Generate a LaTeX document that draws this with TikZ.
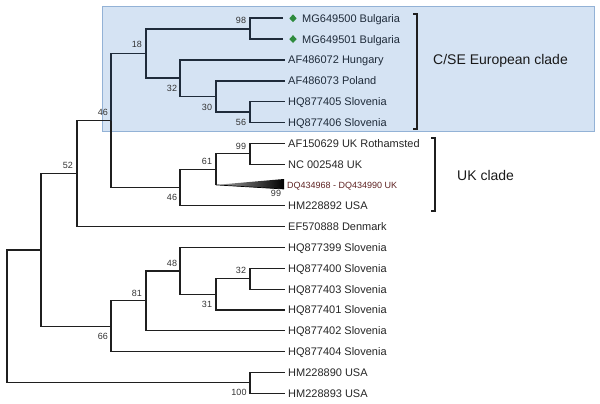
\documentclass[tikz,border=0pt]{standalone}
\usepackage{fontspec}
\setmainfont{Liberation Sans}
\usetikzlibrary{shapes.geometric}
\definecolor{boxfill}{HTML}{D5E3F3}
\definecolor{boxedge}{HTML}{93B2D6}
\definecolor{navy}{HTML}{1F2B3A}
\definecolor{dqred}{HTML}{5E2222}
\definecolor{dgreen}{HTML}{2E8B3E}
\begin{document}
\begin{tikzpicture}[x=1pt,y=-1pt,
  treeline/.style={line width=1.2pt, draw=black!88},
  cladeline/.style={line width=1.7pt, draw=navy},
  leaf/.style={anchor=base west, inner sep=0, font=\fontsize{11}{13}\selectfont, text=black!85},
  bs/.style={inner sep=0, font=\fontsize{9}{11}\selectfont, text=black!80},
  cladelabel/.style={anchor=west, inner sep=0, font=\fontsize{14}{16}\selectfont, text=black!90},
  bracketline/.style={line width=1.5pt, draw=black!88},
  gem/.style={diamond, fill=dgreen, inner sep=0, minimum width=7.5pt, minimum height=8pt}]
\useasboundingbox (0,0) rectangle (600,404);
% clade box
\path[fill=boxfill, draw=boxedge, line width=0.9pt] (102,6) rectangle (594,131);
% leaf tips
\coordinate (t0) at (283,18.3);
\coordinate (t1) at (283,39.1);
\coordinate (t2) at (285,60.0);
\coordinate (t3) at (285,80.8);
\coordinate (t4) at (285,101.6);
\coordinate (t5) at (285,122.5);
\coordinate (t6) at (285,143.3);
\coordinate (t7) at (285,164.1);
\coordinate (dq) at (216,184.9);
\coordinate (tri1) at (284,179);
\coordinate (tri2) at (284,189);
\coordinate (t9) at (285,205.8);
\coordinate (t10) at (285,226.6);
\coordinate (t11) at (285,247.4);
\coordinate (t12) at (285,268.3);
\coordinate (t13) at (285,289.1);
\coordinate (t14) at (285,309.9);
\coordinate (t15) at (285,330.8);
\coordinate (t16) at (285,351.6);
\coordinate (t17) at (285,372.4);
\coordinate (t18) at (285,393.2);
% internal nodes
\coordinate (n98) at (250,28.7);
\coordinate (n56) at (250,112);
\coordinate (n30) at (216,96.4);
\coordinate (n32) at (180,78.2);
\coordinate (n18) at (146,53.5);
\coordinate (n99a) at (250,153.7);
\coordinate (n61) at (216,169.3);
\coordinate (n46b) at (180,187.5);
\coordinate (n46a) at (111,120.5);
\coordinate (n52) at (77,173.5);
\coordinate (n32b) at (250,278.7);
\coordinate (n31) at (216,294.3);
\coordinate (n48) at (180,270.9);
\coordinate (n81) at (146,300.8);
\coordinate (n66) at (111,326.2);
\coordinate (nX) at (41,249.9);
\coordinate (n100) at (250,382.8);
\coordinate (root) at (7,316.4);
% C/SE clade branches
\draw[cladeline] (n46a) |- (n18);
\draw[cladeline] (n18) |- (n98);
\draw[cladeline] (n18) |- (n32);
\draw[cladeline] (n98) |- (t0);
\draw[cladeline] (n98) |- (t1);
\draw[cladeline] (n32) |- (t2);
\draw[cladeline] (n32) |- (n30);
\draw[cladeline] (n30) |- (t3);
\draw[cladeline] (n30) |- (n56);
\draw[cladeline] (n56) |- (t4);
\draw[cladeline] (n56) |- (t5);
% other branches
\draw[treeline] (n46a) |- (n46b);
\draw[treeline] (n46b) |- (n61);
\draw[treeline] (n46b) |- (t9);
\draw[treeline] (n61) |- (n99a);
\draw[treeline] (n61) -- (dq);
\draw[treeline] (n99a) |- (t6);
\draw[treeline] (n99a) |- (t7);
\draw[treeline] (n52) |- (n46a);
\draw[treeline] (n52) |- (t10);
\draw[treeline] (nX) |- (n52);
\draw[treeline] (nX) |- (n66);
\draw[treeline] (n66) |- (n81);
\draw[treeline] (n66) |- (t16);
\draw[treeline] (n81) |- (n48);
\draw[treeline] (n81) |- (t15);
\draw[treeline] (n48) |- (t11);
\draw[treeline] (n48) |- (n31);
\draw[treeline] (n31) |- (n32b);
\draw[treeline] (n31) |- (t14);
\draw[treeline] (n32b) |- (t12);
\draw[treeline] (n32b) |- (t13);
\draw[treeline] (root) |- (nX);
\draw[treeline] (root) |- (n100);
\draw[treeline] (n100) |- (t17);
\draw[treeline] (n100) |- (t18);
% collapsed triangle
\shade[left color=black!35, right color=black] (dq) -- (tri1) -- (tri2) -- cycle;
\draw[line width=0.7pt, black] (dq) -- (tri2);
% diamonds
\node[gem] (d0) at (293,18.3) {};
\node[gem] (d1) at (293,39.1) {};
% leaf labels
\node[leaf, text=navy] (l0) at (302,22.3) {MG649500 Bulgaria};
\node[leaf, text=navy] (l1) at (302,43.1) {MG649501 Bulgaria};
\node[leaf, text=navy] (l2) at (288,64.0) {AF486072 Hungary};
\node[leaf, text=navy] (l3) at (288,84.8) {AF486073 Poland};
\node[leaf, text=navy] (l4) at (288,105.6) {HQ877405 Slovenia};
\node[leaf, text=navy] (l5) at (288,126.5) {HQ877406 Slovenia};
\node[leaf] (l6) at (288,147.3) {AF150629 UK Rothamsted};
\node[leaf] (l7) at (288,168.1) {NC 002548 UK};
\node[leaf, font=\fontsize{9}{11}\selectfont, text=dqred] (l8) at (287,188.1) {DQ434968 - DQ434990 UK};
\node[leaf] (l9) at (288,209.8) {HM228892 USA};
\node[leaf] (l10) at (288,230.6) {EF570888 Denmark};
\node[leaf] (l11) at (288,251.4) {HQ877399 Slovenia};
\node[leaf] (l12) at (288,272.3) {HQ877400 Slovenia};
\node[leaf] (l13) at (288,293.1) {HQ877403 Slovenia};
\node[leaf] (l14) at (288,313.9) {HQ877401 Slovenia};
\node[leaf] (l15) at (288,334.8) {HQ877402 Slovenia};
\node[leaf] (l16) at (288,355.6) {HQ877404 Slovenia};
\node[leaf] (l17) at (288,376.4) {HM228890 USA};
\node[leaf] (l18) at (288,397.2) {HM228893 USA};
% bootstrap values
\node[bs] (b98) at (241,20) {98};
\node[bs] (b18) at (137,44) {18};
\node[bs] (b32) at (172,88) {32};
\node[bs] (b30) at (207,107) {30};
\node[bs] (b56) at (241,122) {56};
\node[bs] (b46a) at (103,112) {46};
\node[bs] (b52) at (68,165) {52};
\node[bs] (b99a) at (241,146) {99};
\node[bs] (b61) at (207,161) {61};
\node[bs] (b46b) at (172,197) {46};
\node[bs] (b99t) at (276,193) {99};
\node[bs] (b48) at (172,263) {48};
\node[bs] (b32b) at (241,270) {32};
\node[bs] (b81) at (137,293) {81};
\node[bs] (b31) at (207,304) {31};
\node[bs] (b66) at (103,336) {66};
\node[bs] (b100) at (239,392) {100};
% brackets
\coordinate (ba1) at (413,14);
\coordinate (ba2) at (417,14);
\coordinate (ba3) at (417,129);
\coordinate (ba4) at (413,129);
\draw[bracketline] (ba1) -- (ba2) -- (ba3) -- (ba4);
\coordinate (bb1) at (431,138);
\coordinate (bb2) at (435,138);
\coordinate (bb3) at (435,211);
\coordinate (bb4) at (431,211);
\draw[bracketline] (bb1) -- (bb2) -- (bb3) -- (bb4);
% clade labels
\node[cladelabel] (cse) at (433,61) {C/SE European clade};
\node[cladelabel] (uk) at (457,175) {UK clade};
\end{tikzpicture}
\end{document}
